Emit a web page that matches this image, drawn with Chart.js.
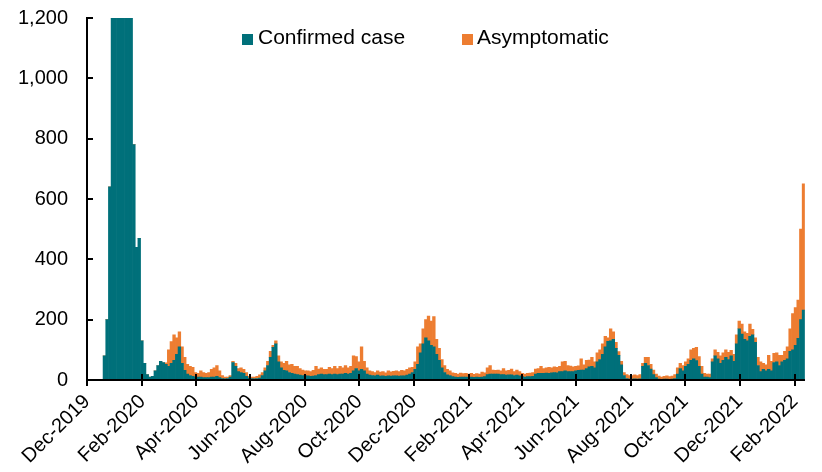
<!DOCTYPE html>
<html>
<head>
<meta charset="utf-8">
<script src="https://cdn.jsdelivr.net/npm/chart.js@4/dist/chart.umd.min.js"></script>
<style>
  body { margin: 0; background: #fff; }
  #wrap { position: relative; width: 822px; height: 472px; }
  .lg { position: absolute; font: 21px 'Liberation Sans', Arial, sans-serif; line-height: 21px; color: #000; white-space: nowrap; }
  .mk { position: absolute; width: 11px; height: 11px; }
</style>
</head>
<body>
<div id="wrap">
  <canvas id="myChart" width="822" height="472"></canvas>
  <div class="mk" style="left:242px; top:34px; background:#00707A;"></div>
  <div class="lg" style="left:258px; top:26px;">Confirmed case</div>
  <div class="mk" style="left:462px; top:34px; background:#ED7D31;"></div>
  <div class="lg" style="left:477px; top:26px;">Asymptomatic</div>
</div>
<script>
//days since 1 Dec 2019, each bar is a 3-day bin
var binSize = 3;
var lastDay = 804;

//tick positions (days since 1 Dec 2019) and their labels
var monthTicks = [0, 62, 122, 183, 244, 305, 366, 428, 487, 548, 609, 670, 731, 793];
var tickLabels = ["Dec-2019", "Feb-2020", "Apr-2020", "Jun-2020", "Aug-2020", "Oct-2020", "Dec-2020",
                  "Feb-2021", "Apr-2021", "Jun-2021", "Aug-2021", "Oct-2021", "Dec-2021", "Feb-2022"];

//confirmed cases per bin (capped at the axis top)
var confirmed = [
  0, 0, 0, 0, 0, 0, 80, 200, 640, 1200,
  1200, 1200, 1200, 1200, 1200, 1200, 1200, 780, 440, 470,
  130, 55, 18, 10, 12, 30, 48, 62, 58, 52,
  45, 55, 65, 85, 110, 55, 32, 20, 15, 12,
  10, 10, 10, 8, 8, 8, 10, 10, 12, 8,
  5, 4, 5, 10, 58, 45, 28, 25, 22, 12,
  6, 5, 4, 5, 6, 15, 30, 48, 75, 108,
  120, 60, 40, 32, 30, 25, 22, 20, 18, 16,
  15, 14, 14, 12, 13, 15, 18, 20, 18, 18,
  20, 18, 20, 18, 20, 20, 22, 20, 22, 30,
  38, 30, 35, 30, 20, 16, 15, 14, 16, 13,
  14, 12, 14, 13, 14, 14, 13, 14, 14, 16,
  20, 25, 35, 52, 90, 120, 140, 130, 115, 110,
  85, 65, 40, 25, 17, 15, 11, 10, 9, 10,
  10, 10, 9, 10, 9, 10, 9, 10, 11, 18,
  20, 20, 20, 20, 18, 18, 16, 17, 17, 15,
  16, 14, 11, 10, 11, 11, 12, 20, 22, 22,
  22, 23, 22, 24, 25, 24, 28, 28, 30, 28,
  28, 28, 30, 32, 33, 33, 38, 44, 45, 40,
  60, 68, 85, 110, 128, 130, 135, 105, 82, 50,
  15, 5, 3, 3, 4, 3, 4, 45, 55, 48,
  36, 18, 8, 3, 2, 3, 3, 2, 3, 5,
  20, 38, 30, 45, 52, 65, 70, 64, 45, 20,
  10, 10, 8, 60, 80, 70, 55, 65, 75, 68,
  80, 62, 120, 170, 152, 135, 130, 145, 150, 125,
  48, 28, 35, 30, 35, 30, 58, 60, 48, 60,
  65, 70, 95, 100, 115, 138, 200, 232
];

//asymptomatic cases per bin
var asymptomatic = [
  0, 0, 0, 0, 0, 0, 0, 0, 0, 0,
  0, 0, 0, 0, 0, 0, 0, 0, 0, 0,
  0, 0, 0, 0, 0, 0, 0, 0, 0, 5,
  55, 72, 85, 55, 50, 55, 43, 32, 30, 30,
  15, 12, 20, 17, 14, 17, 25, 30, 36, 22,
  10, 6, 5, 5, 4, 10, 10, 15, 13, 13,
  6, 5, 6, 7, 11, 10, 10, 14, 20, 7,
  10, 20, 20, 23, 32, 25, 30, 25, 27, 22,
  18, 16, 16, 16, 19, 30, 18, 20, 17, 17,
  22, 20, 25, 20, 25, 20, 26, 20, 23, 50,
  40, 30, 75, 32, 20, 14, 13, 11, 14, 13,
  14, 12, 16, 14, 15, 16, 15, 18, 16, 19,
  20, 17, 25, 58, 30, 50, 60, 82, 80, 100,
  50, 40, 28, 23, 18, 15, 13, 12, 11, 13,
  11, 12, 11, 12, 10, 11, 11, 16, 13, 22,
  28, 13, 12, 13, 12, 20, 14, 15, 19, 13,
  17, 14, 11, 10, 11, 12, 13, 16, 16, 23,
  16, 17, 20, 16, 19, 18, 17, 32, 32, 20,
  18, 16, 15, 15, 37, 17, 27, 22, 30, 20,
  30, 32, 35, 35, 12, 40, 25, 20, 12, 12,
  10, 13, 12, 12, 13, 12, 14, 10, 20, 27,
  16, 15, 12, 10, 8, 9, 11, 9, 10, 13,
  20, 17, 18, 15, 18, 35, 35, 44, 33, 25,
  12, 10, 12, 10, 20, 22, 25, 25, 25, 24,
  18, 23, 30, 25, 33, 25, 25, 40, 18, 15,
  27, 32, 20, 20, 47, 32, 30, 30, 34, 22,
  30, 40, 75, 120, 125, 127, 300, 418
];

var yTicks = [0, 200, 400, 600, 800, 1000, 1200];

function toPoints(values) {
    return values.map(function (v, i) { return { x: i * binSize + binSize / 2, y: v }; });
}

Chart.defaults.font.family = "'Liberation Sans', Arial, sans-serif";
Chart.defaults.color = "#000";

//inward y ticks and crossing x ticks, drawn over the bars like the original
var tickMarks = {
    id: "tickMarks",
    afterDatasetsDraw: function (chart) {
        var ctx = chart.ctx, a = chart.chartArea, x = chart.scales.x, y = chart.scales.y;
        ctx.save();
        ctx.strokeStyle = "#000";
        ctx.lineWidth = 2;
        ctx.beginPath();
        ctx.moveTo(a.left, a.bottom);
        ctx.lineTo(a.right, a.bottom);
        y.ticks.forEach(function (t) {
            var py = Math.round(y.getPixelForValue(t.value));
            ctx.moveTo(a.left, py);
            ctx.lineTo(a.left + 6, py);
        });
        x.ticks.forEach(function (t) {
            var px = Math.round(x.getPixelForValue(t.value));
            ctx.moveTo(px, a.bottom - 6);
            ctx.lineTo(px, a.bottom + 6);
        });
        ctx.stroke();
        ctx.restore();
    }
};

var chartData = {
    datasets: [
        {
            label: "Confirmed case",
            backgroundColor: "#00707A",
            borderWidth: 0,
            barPercentage: 1,
            categoryPercentage: 1,
            data: toPoints(confirmed)
        },
        {
            label: "Asymptomatic",
            backgroundColor: "#ED7D31",
            borderWidth: 0,
            barPercentage: 1,
            categoryPercentage: 1,
            data: toPoints(asymptomatic)
        }
    ]
};

var config = {
    responsive: false,
    animation: false,
    layout: { padding: { top: 18, right: 0, bottom: 0, left: 0 } },
    plugins: {
        legend: { display: false },
        tooltip: { enabled: false }
    },
    scales: {
        x: {
            type: "linear",
            stacked: true,
            offset: false,
            min: 0,
            max: lastDay,
            afterBuildTicks: function (s) {
                s.ticks = monthTicks.map(function (v) { return { value: v }; });
            },
            afterFit: function (s) { s.height = 92; },
            ticks: {
                autoSkip: false,
                minRotation: 45,
                maxRotation: 45,
                padding: 10,
                font: { size: 20 },
                color: "#000",
                callback: function (v) { return tickLabels[monthTicks.indexOf(v)]; }
            },
            grid: { display: false, drawTicks: false },
            border: { display: true, color: "#000", width: 2 }
        },
        y: {
            stacked: true,
            min: 0,
            max: 1200,
            afterBuildTicks: function (s) {
                s.ticks = yTicks.map(function (v) { return { value: v }; });
            },
            afterFit: function (s) { s.width = 87; },
            ticks: {
                padding: 3,
                font: { size: 20 },
                color: "#000",
                callback: function (v) { return v.toLocaleString("en-US"); }
            },
            //invisible tick length keeps the labels off the axis without adding top padding
            grid: { display: false, drawTicks: true, tickLength: 16 },
            border: { display: true, color: "#000", width: 2 }
        }
    }
};

var ctx = document.getElementById("myChart"),
    myChart = new Chart(ctx, {
        type: "bar",
        data: chartData,
        options: config,
        plugins: [tickMarks]
    });
</script>
</body>
</html>
